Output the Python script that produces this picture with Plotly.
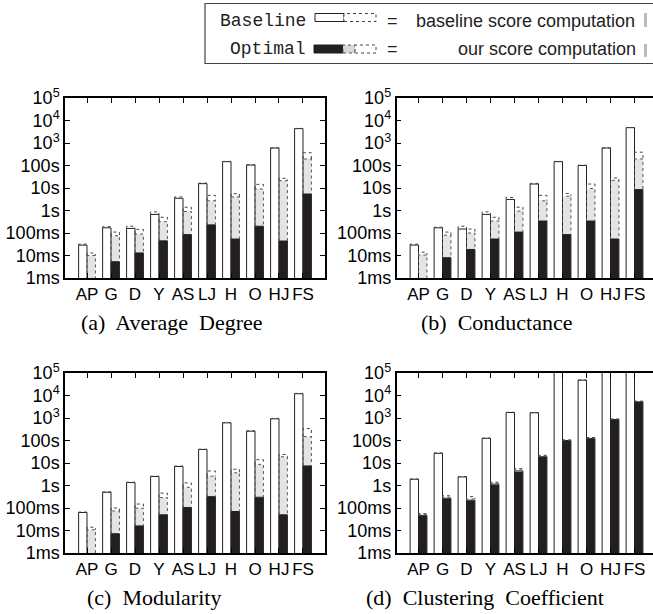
import plotly.graph_objects as go

W, H = 653, 614

categories = ["AP", "G", "D", "Y", "AS", "LJ", "H", "O", "HJ", "FS"]
ytick_vals = [1e-3, 1e-2, 1e-1, 1, 10, 100, 1e3, 1e4, 1e5]
ytick_text = ["1ms", "10ms", "100ms", "1s", "10s", "100s",
              "10<sup>3</sup>", "10<sup>4</sup>", "10<sup>5</sup>"]

# ---- (a) Average Degree (seconds) ----
a_base_solid = [0.029, 0.17, 0.16, 0.67, 3.5, 15.6, 148, 105, 600, 4350]
a_base_dash  = [0.032, 0.19, 0.20, 0.87, 4.0, 16.5, 152, 108, 610, 4450]
a_opt_black  = [0.0008, 0.0053, 0.013, 0.045, 0.085, 0.23, 0.054, 0.20, 0.044, 5.4]
a_opt_gray   = [0.010, 0.076, 0.090, 0.32, 0.90, 2.7, 4.0, 9.0, 21, 195]
a_opt_dash   = [0.013, 0.11, 0.145, 0.50, 1.4, 4.7, 5.6, 14.5, 27, 370]

# ---- (b) Conductance ----
b_base_solid = [0.029, 0.17, 0.15, 0.67, 3.1, 15, 148, 100, 600, 4800]
b_base_dash  = [0.032, 0.18, 0.20, 0.87, 3.8, 16, 152, 103, 610, 4900]
b_opt_black  = [0.0008, 0.008, 0.0186, 0.054, 0.11, 0.34, 0.085, 0.34, 0.054, 8.5]
b_opt_gray   = [0.0105, 0.080, 0.10, 0.34, 0.94, 2.7, 4.3, 9.5, 22, 195]
b_opt_dash   = [0.014, 0.11, 0.15, 0.50, 1.4, 4.7, 5.7, 15, 28, 390]

# ---- (c) Modularity ----
c_base_solid = [0.063, 0.50, 1.35, 2.5, 7.0, 40, 610, 260, 920, 12000]
c_base_dash  = [0.066, 0.52, 1.40, 2.6, 7.3, 41, 630, 268, 950, 12400]
c_opt_black  = [0.0008, 0.0072, 0.016, 0.050, 0.105, 0.32, 0.070, 0.30, 0.050, 7.4]
c_opt_gray   = [0.0107, 0.074, 0.098, 0.29, 0.83, 2.6, 3.7, 8.7, 19, 148]
c_opt_dash   = [0.014, 0.10, 0.15, 0.46, 1.3, 4.4, 5.3, 14, 24, 340]

# ---- (d) Clustering Coefficient ----
d_base_solid = [1.9, 27, 2.4, 125, 1750, 1700, 300000, 48000, 300000, 300000]
d_base_dash  = [1.95, 28, 2.5, 128, 1800, 1750, 310000, 49000, 310000, 310000]
d_opt_black  = [0.047, 0.27, 0.22, 1.15, 4.4, 19, 100, 124, 860, 5200]
d_opt_gray   = [0.050, 0.30, 0.25, 1.25, 4.9, 20, 102, 128, 880, 5350]
d_opt_dash   = [0.056, 0.35, 0.32, 1.40, 5.6, 22, 106, 135, 900, 5600]

captions = ["(a)\u00a0 Average\u00a0 Degree", "(b)\u00a0 Conductance",
            "(c)\u00a0 Modularity", "(d)\u00a0 Clustering\u00a0 Coefficient"]

panels = [
    (a_base_solid, a_base_dash, a_opt_black, a_opt_gray, a_opt_dash),
    (b_base_solid, b_base_dash, b_opt_black, b_opt_gray, b_opt_dash),
    (c_base_solid, c_base_dash, c_opt_black, c_opt_gray, c_opt_dash),
    (d_base_solid, d_base_dash, d_opt_black, d_opt_gray, d_opt_dash),
]

BW = 0.35      # bar width (category units)
OFF = 0.175    # offset of each bar from category centre
FLOOR = 1e-4   # bars start below the visible axis range

SANS = "Liberation Sans, Arial, Helvetica, sans-serif"
SERIF = "Liberation Serif, Times New Roman, serif"
MONO = "Liberation Mono, Courier New, monospace"

fig = go.Figure()


def outline(xs, bottoms, tops, w):
    px, py = [], []
    for x, b, t in zip(xs, bottoms, tops):
        xl, xr = x - w / 2, x + w / 2
        px += [xl, xl, xr, xr, None]
        py += [b, t, t, b, None]
    return px, py


def add_segment(xs, bottoms, tops, fill, line_color, dash, xa, ya, line_w=1.0):
    heights = [t - b for b, t in zip(bottoms, tops)]
    fig.add_trace(go.Bar(x=xs, y=heights, base=bottoms, width=BW,
                         marker=dict(color=fill, line=dict(width=0)),
                         xaxis=xa, yaxis=ya, showlegend=False, hoverinfo="skip"))
    px, py = outline(xs, bottoms, tops, BW)
    fig.add_trace(go.Scatter(x=px, y=py, mode="lines",
                             line=dict(color=line_color, width=line_w, dash=dash),
                             xaxis=xa, yaxis=ya, showlegend=False, hoverinfo="skip"))


idx = list(range(len(categories)))
for k, (bs, bd, ob, og, od) in enumerate(panels):
    xa = "x" if k == 0 else f"x{k+1}"
    ya = "y" if k == 0 else f"y{k+1}"
    xb = [i - OFF for i in idx]
    xo = [i + OFF for i in idx]
    floor = [FLOOR] * len(idx)
    # baseline bar: solid part + dashed (score computation) part
    add_segment(xb, floor, bs, "white", "#222222", "solid", xa, ya)
    add_segment(xb, bs, bd, "white", "#444444", "dot", xa, ya)
    # optimal bar: black + gray + dashed white
    add_segment(xo, floor, ob, "#231f20", "#231f20", "solid", xa, ya)
    add_segment(xo, ob, og, "#e4e4e4", "#555555", "dot", xa, ya)
    add_segment(xo, og, od, "white", "#444444", "dot", xa, ya)


def px_x(v):
    return v / W


def px_y(v):
    return 1 - v / H


x_left = [px_x(65), px_x(325)]
x_right = [px_x(396.5), 1.0]
y_top = [px_y(278), px_y(98)]
y_bot = [px_y(553), px_y(373)]

dom = [(x_left, y_top), (x_right, y_top), (x_left, y_bot), (x_right, y_bot)]
xr_full = [-0.917, 9.917]
xr_clip = [-0.917, -0.917 + (653 - 396.5) / 24.0]

layout = dict(width=W, height=H, margin=dict(l=0, r=0, t=0, b=0, pad=0, autoexpand=False),
              paper_bgcolor="white", plot_bgcolor="white",
              barmode="overlay", showlegend=False, template="none")

for k, (xd, yd) in enumerate(dom):
    sx = "" if k == 0 else str(k + 1)
    right = k in (1, 3)
    layout["xaxis" + sx] = dict(
        domain=xd, anchor="y" + sx, range=xr_clip if right else xr_full,
        tickvals=idx, ticktext=categories, ticks="inside", ticklen=5,
        tickcolor="black", tickwidth=1, showline=True, linecolor="black",
        linewidth=1.5, mirror="allticks", showgrid=False, zeroline=False,
        tickangle=0, automargin=False,
        tickfont=dict(family=SANS, size=17, color="black"), fixedrange=True)
    layout["yaxis" + sx] = dict(
        domain=yd, anchor="x" + sx, type="log", range=[-3, 5],
        tickvals=ytick_vals, ticktext=ytick_text, ticks="inside", ticklen=5,
        tickcolor="black", tickwidth=1, showline=True, linecolor="black",
        linewidth=1.5, mirror=False if right else "allticks",
        showgrid=False, zeroline=False, automargin=False,
        tickfont=dict(family=SANS, size=18, color="black"), fixedrange=True)

fig.update_layout(**layout)

# ---- captions ----
cap_pos = [(172, 322), (497, 322), (154, 597), (485, 597)]
for text, (cx, cy) in zip(captions, cap_pos):
    fig.add_annotation(x=px_x(cx), y=px_y(cy), xref="paper", yref="paper",
                       text=text, showarrow=False, xanchor="center", yanchor="middle",
                       font=dict(family=SERIF, size=22, color="black"))

# ---- key box (decoration) ----
shapes = []
shapes.append(dict(type="rect", xref="paper", yref="paper",
                   x0=px_x(205), x1=px_x(720), y0=px_y(3.5), y1=px_y(63.5),
                   line=dict(color="#444444", width=1.2), fillcolor="rgba(0,0,0,0)"))
shapes.append(dict(type="rect", xref="paper", yref="paper",
                   x0=px_x(315), x1=px_x(344), y0=px_y(21.5), y1=px_y(13.5),
                   line=dict(color="#222222", width=1), fillcolor="white"))
shapes.append(dict(type="rect", xref="paper", yref="paper",
                   x0=px_x(344), x1=px_x(376), y0=px_y(21.5), y1=px_y(13.5),
                   line=dict(color="#444444", width=1, dash="dot"), fillcolor="white"))
shapes.append(dict(type="rect", xref="paper", yref="paper",
                   x0=px_x(314), x1=px_x(343), y0=px_y(53), y1=px_y(45),
                   line=dict(color="#231f20", width=1), fillcolor="#231f20"))
shapes.append(dict(type="rect", xref="paper", yref="paper",
                   x0=px_x(343), x1=px_x(355), y0=px_y(53), y1=px_y(45),
                   line=dict(color="#555555", width=1, dash="dot"), fillcolor="#d8d8d8"))
shapes.append(dict(type="rect", xref="paper", yref="paper",
                   x0=px_x(355), x1=px_x(376), y0=px_y(53), y1=px_y(45),
                   line=dict(color="#444444", width=1, dash="dot"), fillcolor="white"))
for yy0, yy1 in [(13, 27), (44, 57)]:
    shapes.append(dict(type="line", xref="paper", yref="paper",
                       x0=px_x(645.5), x1=px_x(645.5), y0=px_y(yy0), y1=px_y(yy1),
                       line=dict(color="#bbbbbb", width=3)))
fig.update_layout(shapes=shapes)

key_rows = [("Baseline", "baseline score computation", 21),
            ("Optimal", "our score computation", 49)]
for name, desc, yy in key_rows:
    fig.add_annotation(x=px_x(308), y=px_y(yy), xref="paper", yref="paper",
                       text=name, showarrow=False, xanchor="right", yanchor="middle",
                       font=dict(family=MONO, size=18, color="#222222"))
    fig.add_annotation(x=px_x(392), y=px_y(yy), xref="paper", yref="paper",
                       text="=", showarrow=False, xanchor="center", yanchor="middle",
                       font=dict(family=SANS, size=18, color="#222222"))
    if name == "Baseline":
        fig.add_annotation(x=px_x(414), y=px_y(yy), xref="paper", yref="paper",
                           text=desc, showarrow=False, xanchor="left", yanchor="middle",
                           font=dict(family=SANS, size=18, color="#222222"))
    else:
        fig.add_annotation(x=px_x(638), y=px_y(yy), xref="paper", yref="paper",
                           text=desc, showarrow=False, xanchor="right", yanchor="middle",
                           font=dict(family=SANS, size=18, color="#222222"))

fig.write_html("out.html")
